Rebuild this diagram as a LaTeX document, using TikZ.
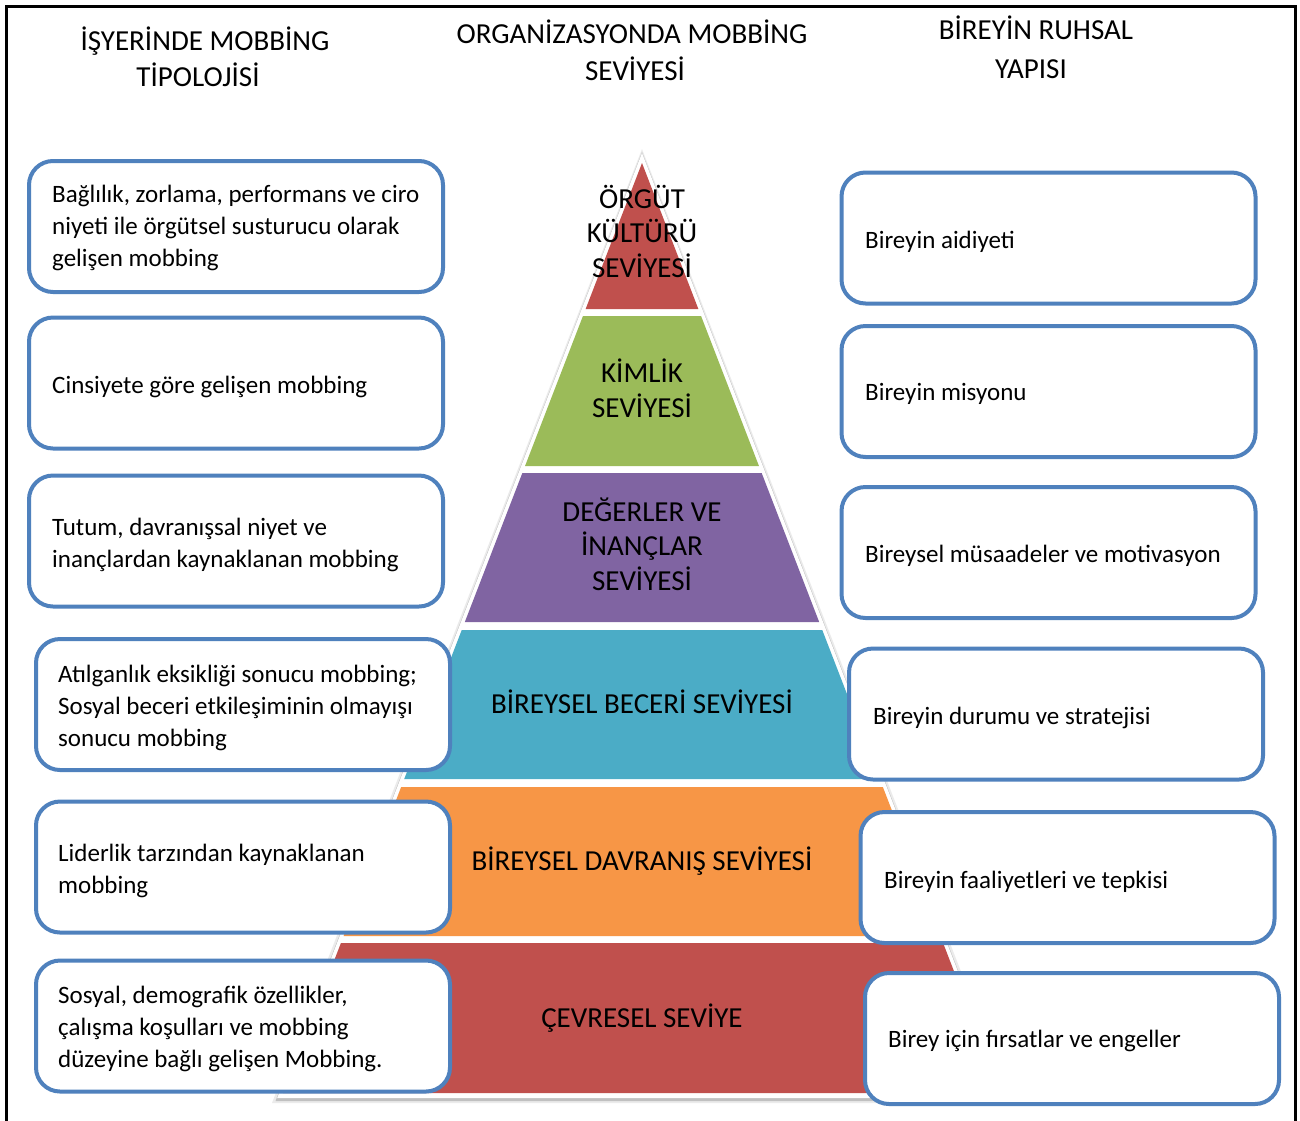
\documentclass[tikz,border=0pt]{standalone}
\usepackage{fontspec}
\setmainfont{Carlito}
\definecolor{boxblue}{HTML}{4F81BD}
\definecolor{pyrred}{HTML}{C0504D}
\definecolor{pyrgreen}{HTML}{9BBB59}
\definecolor{pyrpurple}{HTML}{8064A2}
\definecolor{pyrcyan}{HTML}{4BACC6}
\definecolor{pyrorange}{HTML}{F79646}
\newcommand{\pyrlayer}[4]{%
  \fill[#3] ({642-0.386*(#1-163)},#1) -- ({642+0.386*(#1-163)},#1) -- ({642+0.386*(#2-163)},#2) -- ({642-0.386*(#2-163)},#2) -- cycle;
  \coordinate (#4) at (642,{(#1+#2)/2});}
\begin{document}
\begin{tikzpicture}[x=1pt,y=-1pt,
  mbox/.style={draw=boxblue, line width=4pt, rounded corners=24pt, fill=white, minimum width=414pt, minimum height=131pt, inner sep=0pt},
  btxt/.style={font=\fontsize{25}{32}\selectfont, align=left, anchor=base west, inner sep=0pt},
  htxt/.style={font=\fontsize{29}{37}\selectfont, anchor=base, inner sep=0pt},
  ptxt/.style={font=\fontsize{29}{34.5}\selectfont, align=center, anchor=base, inner sep=0pt},
]
\useasboundingbox (0,0) rectangle (1300,1120);
\fill[white] (0,0) rectangle (1300,1120);
% frame
\draw[line width=3pt] (6,1125) -- (6,6) -- (1295,6) -- (1295,1125);
% headers
\node[htxt] (h1a) at (205,50) {İŞYERİNDE MOBBİNG};
\node[htxt] (h1b) at (198,86) {TİPOLOJİSİ};
\node[htxt] (h2a) at (632,43) {ORGANİZASYONDA MOBBİNG};
\node[htxt] (h2b) at (635,80) {SEVİYESİ};
\node[htxt] (h3a) at (1036,39) {BİREYİN RUHSAL};
\node[htxt] (h3b) at (1031,78) {YAPISI};
% pyramid background with shadow
\fill[black, opacity=0.08] (642,149) -- (1012,1103) -- (272,1103) -- cycle;
\fill[black, opacity=0.18] (642,152) -- (1008.5,1101) -- (275.5,1101) -- cycle;
\fill[white] (642,153) -- (1006.8,1098) -- (277.2,1098) -- cycle;
% layers
\pyrlayer{163}{309}{pyrred}{p1}
\pyrlayer{316}{466}{pyrgreen}{p2}
\pyrlayer{473}{622}{pyrpurple}{p3}
\pyrlayer{630}{779}{pyrcyan}{p4}
\pyrlayer{787}{936}{pyrorange}{p5}
\pyrlayer{943}{1093}{pyrred}{p6}
% pyramid labels
\node[ptxt] (t1) at (642,277) {ÖRGÜT\\KÜLTÜRÜ\\SEVİYESİ};
\node[ptxt] (t2) at (642,417) {KİMLİK\\SEVİYESİ};
\node[ptxt] (t3) at (642,590) {DEĞERLER VE\\İNANÇLAR\\SEVİYESİ};
\node[ptxt] (t4) at (642,713) {BİREYSEL BECERİ SEVİYESİ};
\node[ptxt] (t5) at (642,870) {BİREYSEL DAVRANIŞ SEVİYESİ};
\node[ptxt] (t6) at (642,1027) {ÇEVRESEL SEVİYE};
% left boxes
\node[mbox] (L1) at (236,226.5) {};
\node[mbox] (L2) at (236,383) {};
\node[mbox] (L3) at (236,541) {};
\node[mbox] (L4) at (243,704.5) {};
\node[mbox] (L5) at (243,867) {};
\node[mbox] (L6) at (243,1026) {};
% right boxes
\node[mbox] (R1) at (1048.5,238) {};
\node[mbox] (R2) at (1048.5,391.5) {};
\node[mbox] (R3) at (1048.5,552.5) {};
\node[mbox] (R4) at (1056,714) {};
\node[mbox] (R5) at (1067.5,877.5) {};
\node[mbox] (R6) at (1072,1038.5) {};
% left texts (base = last line)
\node[btxt] (L1t) at (52,266) {Bağlılık, zorlama, performans ve ciro\\niyeti ile örgütsel susturucu olarak\\gelişen mobbing};
\node[btxt] (L2t) at (52,393) {Cinsiyete göre gelişen mobbing};
\node[btxt] (L3t) at (52,567) {Tutum, davranışsal niyet ve\\inançlardan kaynaklanan mobbing};
\node[btxt] (L4t) at (58,746) {Atılganlık eksikliği sonucu mobbing;\\Sosyal beceri etkileşiminin olmayışı\\sonucu mobbing};
\node[btxt] (L5t) at (58,893) {Liderlik tarzından kaynaklanan\\mobbing};
\node[btxt] (L6t) at (58,1067) {Sosyal, demografik özellikler,\\çalışma koşulları ve mobbing\\düzeyine bağlı gelişen Mobbing.};
% right texts
\node[btxt] (R1t) at (865,248) {Bireyin aidiyeti};
\node[btxt] (R2t) at (865,400) {Bireyin misyonu};
\node[btxt] (R3t) at (865,562) {Bireysel müsaadeler ve motivasyon};
\node[btxt] (R4t) at (873,724) {Bireyin durumu ve stratejisi};
\node[btxt] (R5t) at (884,888) {Bireyin faaliyetleri ve tepkisi};
\node[btxt] (R6t) at (888,1047) {Birey için fırsatlar ve engeller};
\end{tikzpicture}
\end{document}
